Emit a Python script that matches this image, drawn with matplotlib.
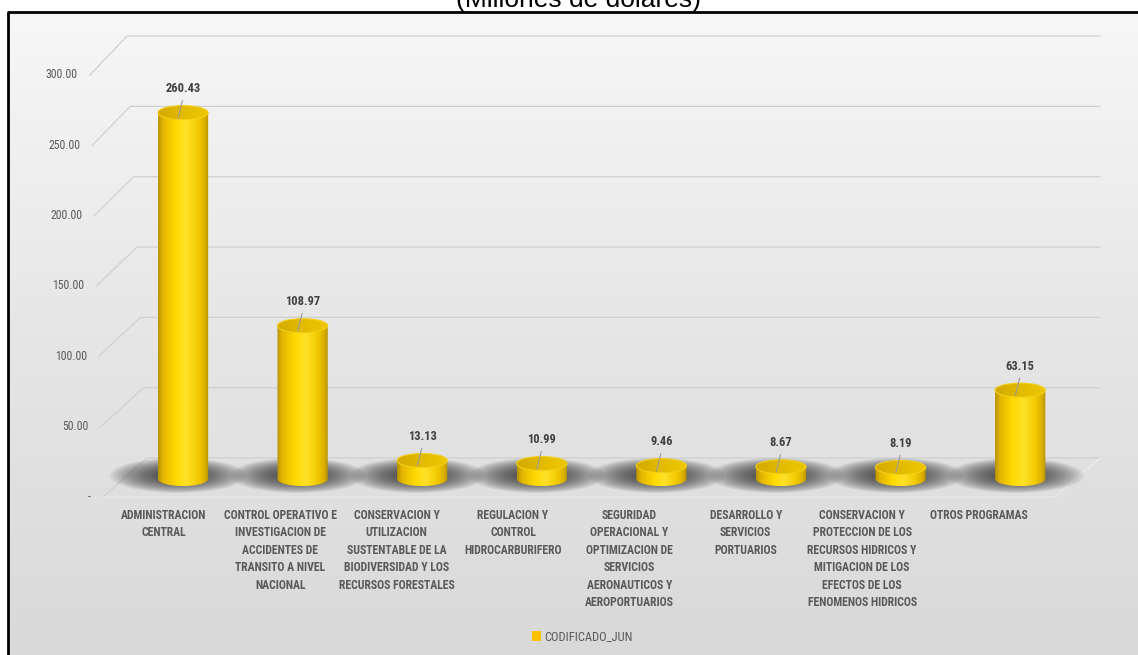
import numpy as np
import matplotlib.pyplot as plt
from matplotlib.patches import Ellipse, PathPatch, Patch
from matplotlib.path import Path
from matplotlib.colors import LinearSegmentedColormap

plt.rcParams["font.family"] = ["Roboto Condensed", "DejaVu Sans"]
plt.rcParams["font.stretch"] = "condensed"

# Data
categories = [
    "ADMINISTRACION\nCENTRAL",
    "CONTROL OPERATIVO E\nINVESTIGACION DE\nACCIDENTES DE\nTRANSITO A NIVEL\nNACIONAL",
    "CONSERVACION Y\nUTILIZACION\nSUSTENTABLE DE LA\nBIODIVERSIDAD Y LOS\nRECURSOS FORESTALES",
    "REGULACION Y\nCONTROL\nHIDROCARBURIFERO",
    "SEGURIDAD\nOPERACIONAL Y\nOPTIMIZACION DE\nSERVICIOS\nAERONAUTICOS Y\nAEROPORTUARIOS",
    "DESARROLLO Y\nSERVICIOS\nPORTUARIOS",
    "CONSERVACION Y\nPROTECCION DE LOS\nRECURSOS HIDRICOS Y\nMITIGACION DE LOS\nEFECTOS DE LOS\nFENOMENOS HIDRICOS",
    "OTROS PROGRAMAS",
]
codificado_jun = [260.43, 108.97, 13.13, 10.99, 9.46, 8.67, 8.19, 63.15]
y_ticks = [0, 50, 100, 150, 200, 250, 300]
y_tick_labels = ["-", "50.00", "100.00", "150.00", "200.00", "250.00", "300.00"]
series_name = "CODIFICADO_JUN"
title = "(Millones de dólares)"

# Figure / scale setup (pixel based so the 3D look lines up)
W, H = 1138, 655
PX_CAT, X0_PX = 119.6, 183.0      # pixels per category, first bar centre
PX_UNIT, Y0_PX = 1.4067, 497.0    # pixels per million, front floor line

BACK = 27.7   # depth offset of the back wall in value units
MID = 12.8    # bars stand half way into the floor
BAR_W = 0.42
CAP_H = 10.0  # ellipse height in value units

def front_x(v):
    return -0.669 - 0.109 * v / 300

def back_x(v):
    return -0.301 - 0.167 * v / 300

BACK_RIGHT = 7.667
FRONT_RIGHT = 7.29

fig = plt.figure(figsize=(W / 100, H / 100), dpi=100)

# background panel with soft vertical gradient and black frame
bg = fig.add_axes([0, 0, 1, 1])
bg.axis("off")
bg_cmap = LinearSegmentedColormap.from_list("bg", ["#f7f7f7", "#e6e6e6", "#d9d9d9"])
bg.imshow(np.linspace(0, 1, 256).reshape(-1, 1), cmap=bg_cmap, extent=[8, W, H, 12],
          aspect="auto", interpolation="bicubic")
bg.plot([8, 8, W], [H, 12, 12], color="black", lw=2, solid_capstyle="butt")
bg.set_xlim(0, W)
bg.set_ylim(H, 0)

fig.text(0.508, 1 - 7 / H, title, ha="center", va="baseline", fontsize=19,
         family=["Liberation Sans", "DejaVu Sans"], fontstretch="normal", color="black")

ax = fig.add_axes([0, 0, 1, 1])
ax.set_facecolor("none")
ax.axis("off")

grid_color = "#d0d0d0"
for v, lab in zip(y_ticks, y_tick_labels):
    ax.plot([front_x(v), back_x(v), BACK_RIGHT], [v, v + BACK, v + BACK],
            color=grid_color, lw=0.9, zorder=1)
    ax.text(front_x(v) - 0.1, v, lab, ha="right", va="center", fontsize=8.5, color="#595959")

# floor edges
ax.plot([front_x(0), FRONT_RIGHT, BACK_RIGHT], [0, 0, BACK], color="#e9e9e9", lw=1.0, zorder=1)

body_cmap = LinearSegmentedColormap.from_list(
    "body", [(0.0, "#b89300"), (0.1, "#e2b600"), (0.35, "#ffd900"), (0.55, "#ffe22a"),
             (0.8, "#f2c900"), (0.93, "#d9ae00"), (1.0, "#b58f00")])
top_cmap = LinearSegmentedColormap.from_list("top", ["#d2a900", "#e3bb00", "#eec800"])
grad = np.linspace(0, 1, 256).reshape(1, -1)

for i, (v, cat) in enumerate(zip(codificado_jun, categories)):
    x = i
    base = MID
    top = base + v
    x0, x1 = x - BAR_W / 2, x + BAR_W / 2

    # blurred floor shadow, built from many faint stacked ellipses
    for s in np.linspace(1.0, 0.3, 30):
        ax.add_patch(Ellipse((x - 0.04, base + 2.5), 1.15 * s, 25 * s, facecolor="#2b2b2b",
                             edgecolor="none", alpha=0.04, zorder=2))

    # cylinder body: side rectangle plus lower half ellipse
    t = np.linspace(np.pi, 2 * np.pi, 60)
    bottom = np.column_stack([x + BAR_W / 2 * np.cos(t), base + CAP_H / 2 * np.sin(t)])
    verts = np.vstack([bottom, [[x1, top], [x0, top], bottom[0]]])
    codes = [Path.MOVETO] + [Path.LINETO] * (len(verts) - 2) + [Path.CLOSEPOLY]
    body = PathPatch(Path(verts, codes), facecolor="none", edgecolor="none", zorder=3)
    ax.add_patch(body)
    im = ax.imshow(grad, cmap=body_cmap, extent=[x0, x1, base - CAP_H / 2, top],
                   aspect="auto", interpolation="bicubic", zorder=3)
    im.set_clip_path(body)

    cap = Ellipse((x, top), BAR_W, CAP_H, facecolor="none", edgecolor="#f3cf1a", lw=0.8, zorder=5)
    ax.add_patch(cap)
    im2 = ax.imshow(grad, cmap=top_cmap, extent=[x0, x1, top - CAP_H / 2, top + CAP_H / 2],
                    aspect="auto", interpolation="bicubic", zorder=4)
    im2.set_clip_path(cap)

    # value label with leader line
    ax.plot([x - 0.005, x - 0.04], [top + 8.5, top - 3.5], color="#9a9a9a", lw=0.8, zorder=6)
    ax.text(x, top + 17, f"{v:.2f}", ha="center", va="center", fontsize=9,
            fontweight="bold", color="#404040", zorder=7)

    # category label along the front edge of the floor
    ax.text(i * 0.973 - 0.16, -8.5, cat, ha="center", va="top", fontsize=8.5,
            fontweight="bold", color="#595959", linespacing=1.45)

ax.set_xlim(-X0_PX / PX_CAT, (W - X0_PX) / PX_CAT)
ax.set_ylim((Y0_PX - H) / PX_UNIT, Y0_PX / PX_UNIT)

fig.legend(handles=[Patch(facecolor="#ffc000", edgecolor="none")], labels=[series_name],
           loc="center", bbox_to_anchor=(582 / W, 1 - 637 / H), frameon=False,
           handlelength=0.75, handleheight=0.9, handletextpad=0.25, fontsize=9,
           labelcolor="#595959")

fig.savefig("out.png", dpi=100)
